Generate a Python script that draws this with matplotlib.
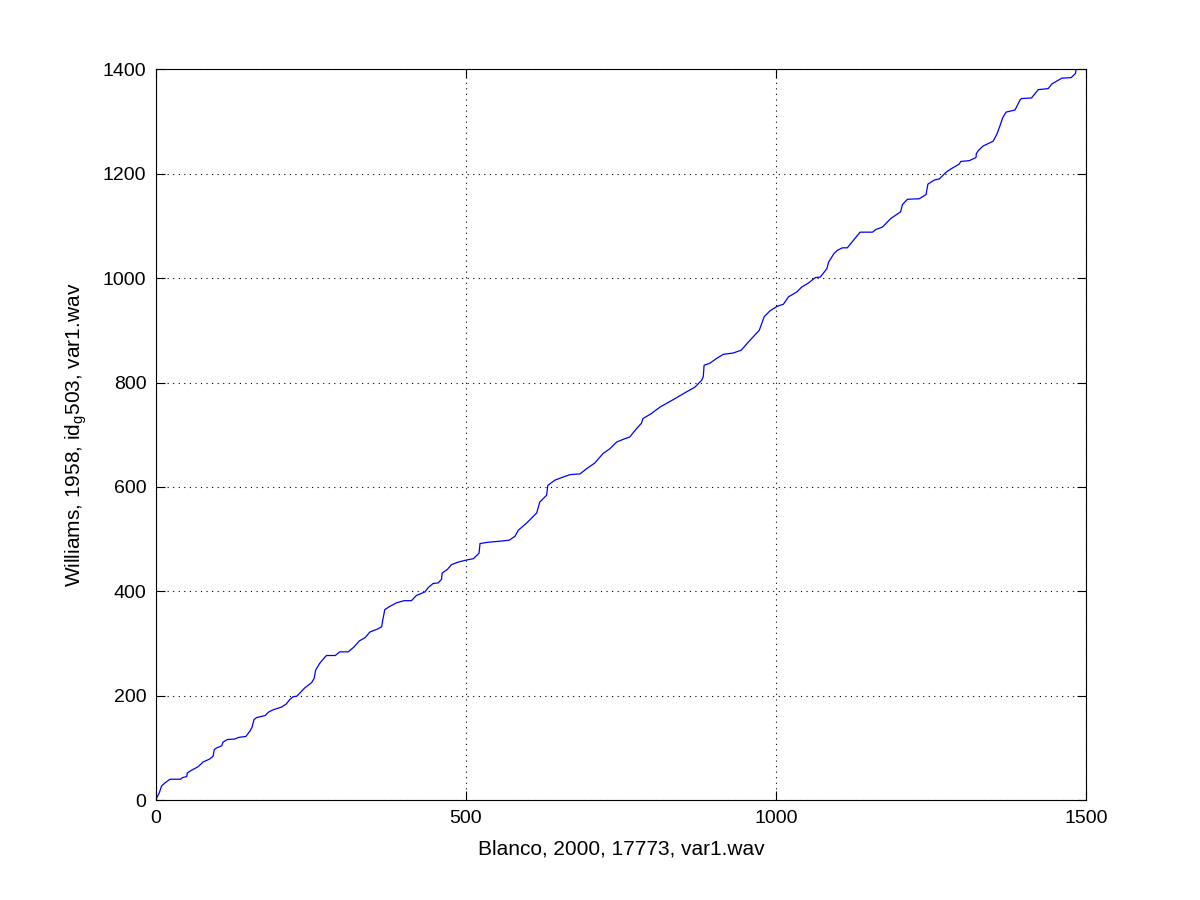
import matplotlib
matplotlib.use('Agg')
import matplotlib.pyplot as plt

# path (x: Blanco frames, y: Williams frames)
blanco = [0, 1, 5, 9, 14.5, 22.6, 39.8, 42.5, 49.5, 50.5, 57, 68, 76, 87, 92, 94, 98,
          106, 108, 115, 127, 133, 145, 152, 155, 158, 162, 176, 182, 189, 202, 210,
          216, 221, 227, 240, 251, 255, 257.5, 264, 272.5, 275, 289, 296.5, 310, 319,
          328, 337, 345, 356, 364, 365, 369, 377, 388, 400, 412, 420, 434, 439, 447,
          455, 460.5, 461.5, 470, 476.5, 487.6, 501, 512, 521, 522.6, 536, 555, 570,
          579, 584.4, 598, 614, 619, 630, 632, 643.5, 657, 668, 684, 694.7, 708, 721,
          732, 743, 756.5, 764, 775, 783, 785.5, 799, 813, 834, 855.6, 869, 880,
          882.7, 884, 893.5, 904, 915, 931, 944, 955, 973, 981, 990, 1002, 1012, 1020,
          1033.6, 1041.6, 1052.4, 1063.4, 1071.5, 1082, 1085, 1093.5, 1098.9, 1107,
          1115, 1126, 1135.6, 1155.6, 1161, 1172, 1185, 1201, 1204, 1212, 1231, 1242,
          1245, 1255.6, 1263.4, 1274, 1282, 1295.6, 1298, 1311.8, 1322.6, 1323, 1326,
          1334, 1350, 1356, 1361, 1365.6, 1371, 1385.5, 1393.5, 1396, 1412, 1423, 1439,
          1445, 1461, 1476, 1483, 1484]
williams = [0, 4, 13, 27, 33, 40, 40, 43, 45, 52, 57, 64, 73, 79, 84, 97, 100,
            104, 111, 116, 117, 120, 122, 133, 140, 154, 158, 162, 169, 173, 178, 184,
            193, 198, 199, 215, 225, 233, 249, 262, 274, 277, 277, 284, 284, 293,
            305, 311, 322, 327, 332, 340, 365, 371, 378, 382, 382, 392, 399, 407, 415,
            416, 423, 435, 442, 451, 456, 460, 462.5, 473, 491.5, 494, 496, 498,
            505.5, 517, 531, 550, 571, 584, 603, 613, 619, 623.5, 625, 635, 646, 664,
            673, 686, 692.5, 695.5, 711.5, 722, 731, 740.5, 753, 767, 782, 791, 804,
            811, 833, 837, 846, 854, 856.5, 862, 877, 900, 926, 937, 946, 950, 964,
            973.5, 983, 990.6, 1001, 1002, 1018, 1031, 1047, 1053, 1058,
            1058, 1074, 1088, 1088, 1093, 1098, 1114, 1127, 1141, 1151, 1152, 1160,
            1180, 1188, 1190, 1202.5, 1209, 1218.5, 1223.5, 1225, 1231, 1238, 1244,
            1253, 1262, 1275, 1291, 1307, 1318, 1322, 1341, 1344, 1345, 1361, 1363,
            1372, 1383, 1384, 1392, 1400]

plt.rcParams['font.family'] = ['Liberation Sans', 'DejaVu Sans']
plt.rcParams['mathtext.fontset'] = 'custom'
plt.rcParams['mathtext.rm'] = 'Liberation Sans'

fig = plt.figure(figsize=(12, 9), dpi=100)
ax = fig.add_axes([0.13, 0.111, 0.775, 0.812])
ax.plot(blanco, williams, color='#0000ff', linewidth=0.9)

ax.set_xlim(0, 1500)
ax.set_ylim(0, 1400)
ax.set_xticks([0, 500, 1000, 1500])
ax.set_yticks([0, 200, 400, 600, 800, 1000, 1200, 1400])
ax.grid(True, color='black', linestyle=(0, (1, 4)), linewidth=0.8)
ax.tick_params(direction='in', length=6.5, width=0.8, labelsize=14,
               top=True, right=True, pad=7)
for s in ax.spines.values():
    s.set_linewidth(0.8)

ax.set_xlabel('Blanco, 2000, 17773, var1.wav', fontsize=15, labelpad=9)
ax.set_ylabel(r'Williams, 1958, id$_{\mathrm{g}}$503, var1.wav', fontsize=15, labelpad=10)

fig.savefig('out.png', dpi=100)
